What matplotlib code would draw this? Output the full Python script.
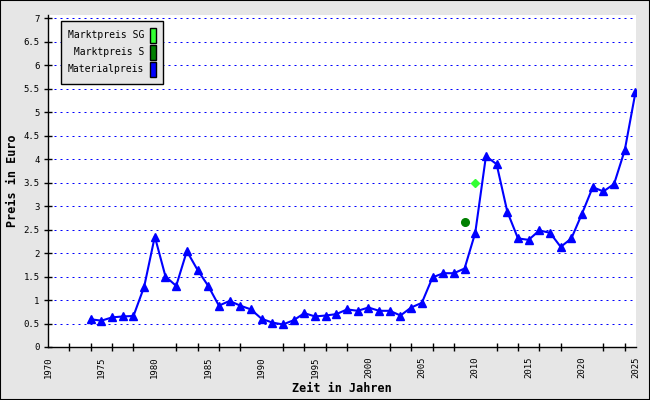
import matplotlib.pyplot as plt
from matplotlib.patches import Rectangle
import numpy as np

# Materialpreis per year
jahre = list(range(1974, 2026))
materialpreis = [0.59, 0.56, 0.63, 0.65, 0.66, 1.28, 2.35, 1.50, 1.30, 2.04,
                 1.64, 1.30, 0.88, 0.98, 0.88, 0.80, 0.60, 0.52, 0.48, 0.57,
                 0.72, 0.65, 0.67, 0.70, 0.80, 0.77, 0.84, 0.77, 0.77, 0.67,
                 0.84, 0.94, 1.48, 1.57, 1.57, 1.67, 2.43, 4.06, 3.89, 2.88,
                 2.31, 2.28, 2.48, 2.43, 2.13, 2.31, 2.84, 3.40, 3.31, 3.47,
                 4.19, 5.42]

# Marktpreise (single points)
jahr_s = [2009]
marktpreis_s = [2.66]
jahr_sg = [2010]
marktpreis_sg = [3.50]

grau = '#e6e6e6'
mono = 'DejaVu Sans Mono'

fig = plt.figure(figsize=(6.5, 4), dpi=100, facecolor=grau)
ax = fig.add_axes([48/650, 53/400, 588/650, 332/400])
ax.set_facecolor('white')

ax.set_xlim(1970, 2025.05)
ax.set_ylim(0, 7.064)

yt = np.arange(0.5, 7.01, 0.5)
for y in yt:
    ax.axhline(y, color='#0000ff', lw=0.72, dashes=(2, 4), zorder=1)

l_sg, = ax.plot(jahr_sg, marktpreis_sg, linestyle='none', marker='D', ms=4,
                color='#33ff33', zorder=3)
l_s, = ax.plot(jahr_s, marktpreis_s, linestyle='none', marker='o', ms=5.5,
               color='#008000', zorder=3)
l_m, = ax.plot(jahre, materialpreis, color='#0000ff', lw=1.5, marker='^', ms=5.5,
               zorder=4)

for s in ['top', 'right']:
    ax.spines[s].set_visible(False)
for s in ['left', 'bottom']:
    ax.spines[s].set_linewidth(1)

ax.set_yticks([0] + list(yt))
ax.set_yticklabels(['0'] + ['%g' % v for v in yt], family=mono, fontsize=6.5)
ax.tick_params(axis='y', direction='inout', length=6, width=1, pad=3)

ax.set_xticks(range(1970, 2026, 5))
ax.set_xticklabels([str(j) for j in range(1970, 2026, 5)], family=mono,
                   fontsize=6.5, rotation=90)
ax.set_xticks(range(1970, 2025, 2), minor=True)
ax.tick_params(axis='x', which='major', length=0, pad=7)
ax.tick_params(axis='x', which='minor', direction='inout', length=6, width=1)

ax.set_ylabel('Preis in Euro', family=mono, fontweight='bold', fontsize=8.5,
              labelpad=3)
ax.set_xlabel('Zeit in Jahren', family=mono, fontweight='bold', fontsize=8.5,
              labelpad=3)

# legend with colored boxes on the right
h_sg = Rectangle((0, 0), 1, 1, fc='#33ff33', ec='black', lw=1)
h_s = Rectangle((0, 0), 1, 1, fc='#008000', ec='black', lw=1)
h_m = Rectangle((0, 0), 1, 1, fc='#0000ff', ec='black', lw=1)
leg = ax.legend([h_sg, h_s, h_m],
                ['Marktpreis SG', ' Marktpreis S', 'Materialpreis'],
                loc='upper left', bbox_to_anchor=(13/588, 326/332),
                borderaxespad=0, markerfirst=False, frameon=True,
                fancybox=False, facecolor=grau, edgecolor='black',
                framealpha=1, prop={'family': mono, 'size': 7},
                handlelength=0.6, handleheight=2.0, handletextpad=0.6,
                labelspacing=0.2, borderpad=0.7)
leg.get_frame().set_linewidth(1)

fig.patches.append(Rectangle((0, 0), 1, 1, transform=fig.transFigure,
                             fill=False, ec='black', lw=1.5))

fig.savefig('out.png', dpi=100, facecolor=grau)
